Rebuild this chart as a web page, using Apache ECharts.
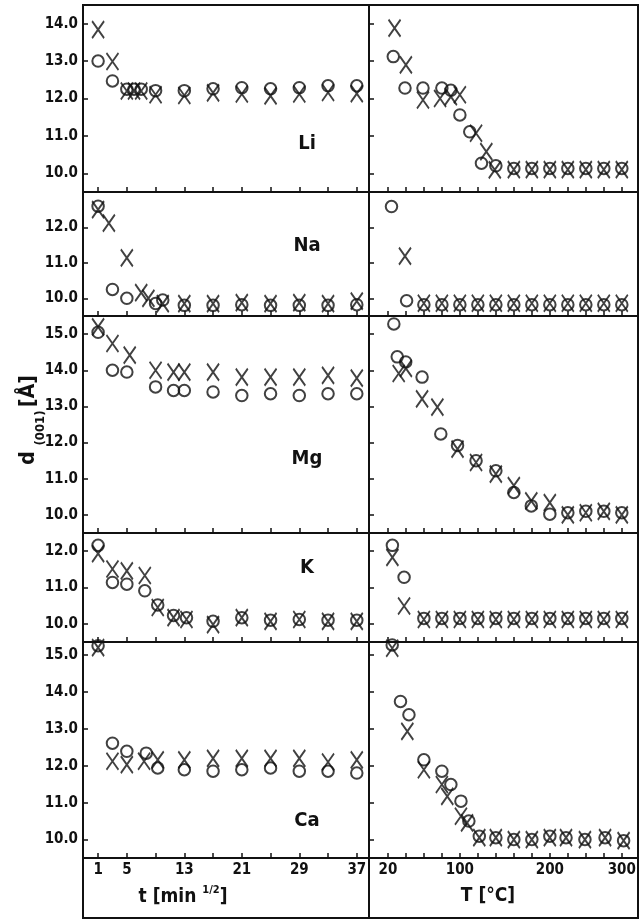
<!DOCTYPE html>
<html><head><meta charset="utf-8">
<script src="https://cdn.jsdelivr.net/npm/echarts@6/dist/echarts.min.js"></script>
<style>html,body{margin:0;padding:0;background:#fff}#c{width:641px;height:921px}</style>
</head><body><div id="c"></div>
<script>
// ---------- data ----------
const panelNames = ['Li', 'Na', 'Mg', 'K', 'Ca'];
const timeTicks = [1, 5, 9, 13, 17, 21, 25, 29, 33, 37];
const timeLabels = [1, 5, 13, 21, 29, 37];
// temperature axis: equally spaced steps, step 0 = 20 °C
const tempSteps = [0, 1, 2, 3, 4, 5, 6, 7, 8, 9, 10, 11, 12, 13];
const tempLabelSteps = [0, 4, 9, 13];
const tempLabelText = ['20', '100', '200', '300'];
const yTicksLi = [10, 11, 12, 13, 14];
const yTicksNa = [10, 11, 12];
const yTicksMg = [10, 11, 12, 13, 14, 15];
const yTicksK = [10, 11, 12];
const yTicksCa = [10, 11, 12, 13, 14, 15];

// time series  [t, d001]
const liTimeO = [[1,13.0],[3,12.47],[5,12.25],[6,12.25],[7,12.25],[9,12.21],[13,12.21],[17,12.26],[21,12.29],[25,12.26],[29,12.29],[33,12.34],[37,12.34]];
const liTimeX = [[1,13.84],[3,12.99],[5,12.2],[6,12.2],[7,12.2],[9,12.1],[13,12.08],[17,12.15],[21,12.12],[25,12.07],[29,12.12],[33,12.16],[37,12.13]];
const naTimeO = [[1,12.6],[3,10.25],[5,10.0],[9,9.85],[10,9.95],[13,9.8],[17,9.8],[21,9.82],[25,9.8],[29,9.8],[33,9.8],[37,9.82]];
const naTimeX = [[1,12.5],[2.5,12.12],[5,11.14],[7,10.16],[8,10.0],[10,9.85],[13,9.85],[17,9.85],[21,9.88],[25,9.85],[29,9.88],[33,9.85],[37,9.92]];
const mgTimeO = [[1,15.05],[3,14.0],[5,13.95],[9,13.54],[11.5,13.44],[13,13.44],[17,13.4],[21,13.3],[25,13.35],[29,13.3],[33,13.35],[37,13.35]];
const mgTimeX = [[1,15.2],[3,14.74],[5.4,14.42],[9,14.0],[11.5,13.95],[13,13.95],[17,13.95],[21,13.81],[25,13.81],[29,13.81],[33,13.86],[37,13.78]];
const kTimeO = [[1,12.16],[3,11.14],[5,11.09],[7.5,10.91],[9.3,10.52],[11.5,10.23],[13.3,10.17],[17,10.07],[21,10.17],[25,10.1],[29,10.12],[33,10.1],[37,10.1]];
const kTimeX = [[1,11.93],[3,11.51],[5,11.46],[7.5,11.33],[9.3,10.45],[11.5,10.17],[13.3,10.12],[17,9.98],[21,10.17],[25,10.07],[29,10.12],[33,10.07],[37,10.07]];
const caTimeO = [[1,15.25],[3,12.61],[5,12.39],[7.7,12.34],[9.3,11.94],[13,11.89],[17,11.85],[21,11.89],[25,11.94],[29,11.85],[33,11.85],[37,11.8]];
const caTimeX = [[1,15.2],[3,12.12],[5,12.03],[7.4,12.12],[9.3,12.16],[13,12.16],[17,12.2],[21,12.2],[25,12.2],[29,12.2],[33,12.1],[37,12.16]];

// temperature series [temperature step, d001]
const liTempO = [[0.3,13.12],[0.95,12.28],[1.95,12.28],[3.0,12.28],[3.5,12.22],[4.0,11.56],[4.55,11.11],[5.2,10.27],[6.0,10.2],[7,10.13],[8,10.13],[9,10.13],[10,10.13],[11,10.13],[12,10.13],[13,10.13]];
const liTempX = [[0.37,13.88],[1.0,12.9],[1.95,11.96],[2.9,12.0],[3.5,12.05],[4.0,12.1],[4.9,11.07],[5.47,10.58],[5.94,10.09],[7,10.1],[8,10.1],[9,10.1],[10,10.1],[11,10.1],[12,10.1],[13,10.1]];
const naTempO = [[0.2,12.59],[1.04,9.93],[2,9.82],[3,9.82],[4,9.82],[5,9.82],[6,9.82],[7,9.82],[8,9.82],[9,9.82],[10,9.82],[11,9.82],[12,9.82],[13,9.82]];
const naTempX = [[0.95,11.19],[2,9.86],[3,9.86],[4,9.86],[5,9.86],[6,9.86],[7,9.86],[8,9.86],[9,9.86],[10,9.86],[11,9.86],[12,9.86],[13,9.86]];
const mgTempO = [[0.33,15.28],[0.52,14.37],[0.99,14.23],[1.9,13.81],[2.94,12.24],[3.87,11.92],[4.9,11.5],[6.0,11.22],[7.0,10.62],[7.97,10.25],[9.0,10.02],[10,10.06],[11,10.1],[12,10.1],[13,10.06]];
const mgTempX = [[0.6,13.91],[1.0,14.05],[1.9,13.21],[2.75,12.98],[3.87,11.82],[4.9,11.45],[6.0,11.13],[7.0,10.81],[7.97,10.39],[9.0,10.34],[10,10.0],[11,10.06],[12,10.1],[13,10.0]];
const kTempO = [[0.25,12.16],[0.9,11.28],[2,10.15],[3,10.15],[4,10.15],[5,10.15],[6,10.15],[7,10.15],[8,10.15],[9,10.15],[10,10.15],[11,10.15],[12,10.15],[13,10.15]];
const kTempX = [[0.25,11.83],[0.9,10.49],[2,10.12],[3,10.12],[4,10.12],[5,10.12],[6,10.12],[7,10.12],[8,10.12],[9,10.12],[10,10.12],[11,10.12],[12,10.12],[13,10.12]];
const caTempO = [[0.24,15.27],[0.7,13.74],[1.17,13.38],[2.0,12.16],[3.0,11.85],[3.5,11.49],[4.06,11.04],[4.5,10.5],[5.08,10.09],[6,10.05],[7,10.0],[8,10.0],[9,10.09],[9.9,10.05],[10.95,10.0],[12.07,10.05],[13.1,9.97]];
const caTempX = [[0.24,15.18],[1.08,12.93],[2.0,11.89],[3.0,11.49],[3.3,11.17],[4.06,10.63],[4.4,10.45],[5.08,10.05],[6,10.05],[7,10.0],[8,10.0],[9,10.05],[9.9,10.05],[10.95,10.0],[12.07,10.05],[13.1,9.97]];

// ---------- layout ----------
const F = "'Liberation Sans Narrow','DejaVu Sans Condensed','Roboto Condensed',sans-serif";
const INK = '#111';
const rows = [
  {top: 5,   h: 187, min: 9.5, max: 14.5, ticks: yTicksLi, o: [liTimeO, liTempO], x: [liTimeX, liTempX], ly: 144},
  {top: 192, h: 124, min: 9.5, max: 13.0, ticks: yTicksNa, o: [naTimeO, naTempO], x: [naTimeX, naTempX], ly: 246},
  {top: 316, h: 217, min: 9.5, max: 15.5, ticks: yTicksMg, o: [mgTimeO, mgTempO], x: [mgTimeX, mgTempX], ly: 459},
  {top: 533, h: 109, min: 9.5, max: 12.5, ticks: yTicksK,  o: [kTimeO, kTempO],   x: [kTimeX, kTempX],   ly: 568},
  {top: 642, h: 216, min: 9.5, max: 15.35,ticks: yTicksCa, o: [caTimeO, caTempO], x: [caTimeX, caTempX], ly: 821}
];
const LX = 83, MX = 369, RX = 638;

const grids = [], xAxes = [], yAxes = [], series = [], graphics = [];
const tickStyle = {show: true, inside: true, length: 5, lineStyle: {color: INK, width: 1.5}};
const labStyle = {fontFamily: F, fontWeight: 'bold', fontSize: 15, color: INK};
const XSYM = 'path://M0,0L12,18M12,0L0,18';

rows.forEach((r, i) => {
  const last = i === rows.length - 1;
  [0, 1].forEach(c => {
    const gi = grids.length;
    grids.push({left: c ? MX : LX, top: r.top, width: c ? RX - MX : MX - LX, height: r.h,
      show: true, borderColor: INK, borderWidth: 2, backgroundColor: 'transparent'});
    if (c === 0) {
      xAxes.push({type: 'value', gridIndex: gi, min: -1.1, max: 38.7, position: 'bottom',
        axisLine: {show: false, onZero: false}, splitLine: {show: false},
        axisTick: Object.assign({customValues: timeTicks}, tickStyle),
        axisLabel: Object.assign({show: last, customValues: timeLabels, margin: 5}, labStyle)});
    } else {
      xAxes.push({type: 'value', gridIndex: gi, min: -1.05, max: 13.9, position: 'bottom',
        axisLine: {show: false, onZero: false}, splitLine: {show: false},
        axisTick: Object.assign({customValues: tempSteps}, tickStyle),
        axisLabel: Object.assign({show: last, customValues: tempLabelSteps, margin: 5,
          formatter: v => tempLabelText[tempLabelSteps.indexOf(Math.round(v))] || ''}, labStyle)});
    }
    yAxes.push({type: 'value', gridIndex: gi, min: r.min, max: r.max, position: 'left',
      axisLine: {show: false, onZero: false}, splitLine: {show: false},
      axisTick: Object.assign({customValues: r.ticks}, tickStyle),
      axisLabel: Object.assign({show: c === 0, customValues: r.ticks, margin: 5,
        formatter: v => v.toFixed(1)}, labStyle)});
    series.push({type: 'scatter', xAxisIndex: gi, yAxisIndex: gi, data: r.o[c],
      symbol: 'circle', symbolSize: 11.5,
      itemStyle: {color: 'rgba(0,0,0,0)', borderColor: INK, borderWidth: 2}});
    series.push({type: 'scatter', xAxisIndex: gi, yAxisIndex: gi, data: r.x[c],
      symbol: XSYM, symbolSize: [12, 17],
      itemStyle: {color: 'rgba(0,0,0,0)', borderColor: INK, borderWidth: 2}});
  });
  graphics.push({type: 'text', x: 307, y: r.ly, style: {text: panelNames[i], font: 'bold 20px ' + F,
    fill: INK, align: 'center', verticalAlign: 'middle'}});
});

// bottom label box
graphics.push({type: 'rect', shape: {x: LX, y: 858, width: RX - LX, height: 60},
  style: {fill: 'none', stroke: INK, lineWidth: 2}});
graphics.push({type: 'line', shape: {x1: MX, y1: 858, x2: MX, y2: 918}, style: {stroke: INK, lineWidth: 2}});
graphics.push({type: 'text', x: 183, y: 896, style: {
  text: '{a|t [min }{s|1/2}{a|]}', align: 'center', verticalAlign: 'middle', fill: INK,
  rich: {a: {font: 'bold 19px ' + F, fill: INK, lineHeight: 22, verticalAlign: 'bottom'},
         s: {font: 'bold 11px ' + F, fill: INK, lineHeight: 22, verticalAlign: 'top'}}}});
graphics.push({type: 'text', x: 488, y: 896, style: {text: 'T [°C]', font: 'bold 19px ' + F,
  fill: INK, align: 'center', verticalAlign: 'middle'}});
// y axis title
graphics.push({type: 'text', x: 29, y: 458, rotation: Math.PI / 2, style: {text: 'd', font: 'bold 21px ' + F,
  fill: INK, align: 'center', verticalAlign: 'middle'}});
graphics.push({type: 'text', x: 41, y: 428, rotation: Math.PI / 2, style: {text: '(001)', font: 'bold 13px ' + F,
  fill: INK, align: 'center', verticalAlign: 'middle'}});
graphics.push({type: 'text', x: 29, y: 391, rotation: Math.PI / 2, style: {text: '[Å]', font: 'bold 21px ' + F,
  fill: INK, align: 'center', verticalAlign: 'middle'}});

const chart = echarts.init(document.getElementById('c'), null, {renderer: 'canvas'});
chart.setOption({animation: false, backgroundColor: '#fff', grid: grids, xAxis: xAxes, yAxis: yAxes,
  series: series, graphic: graphics});
</script></body></html>
